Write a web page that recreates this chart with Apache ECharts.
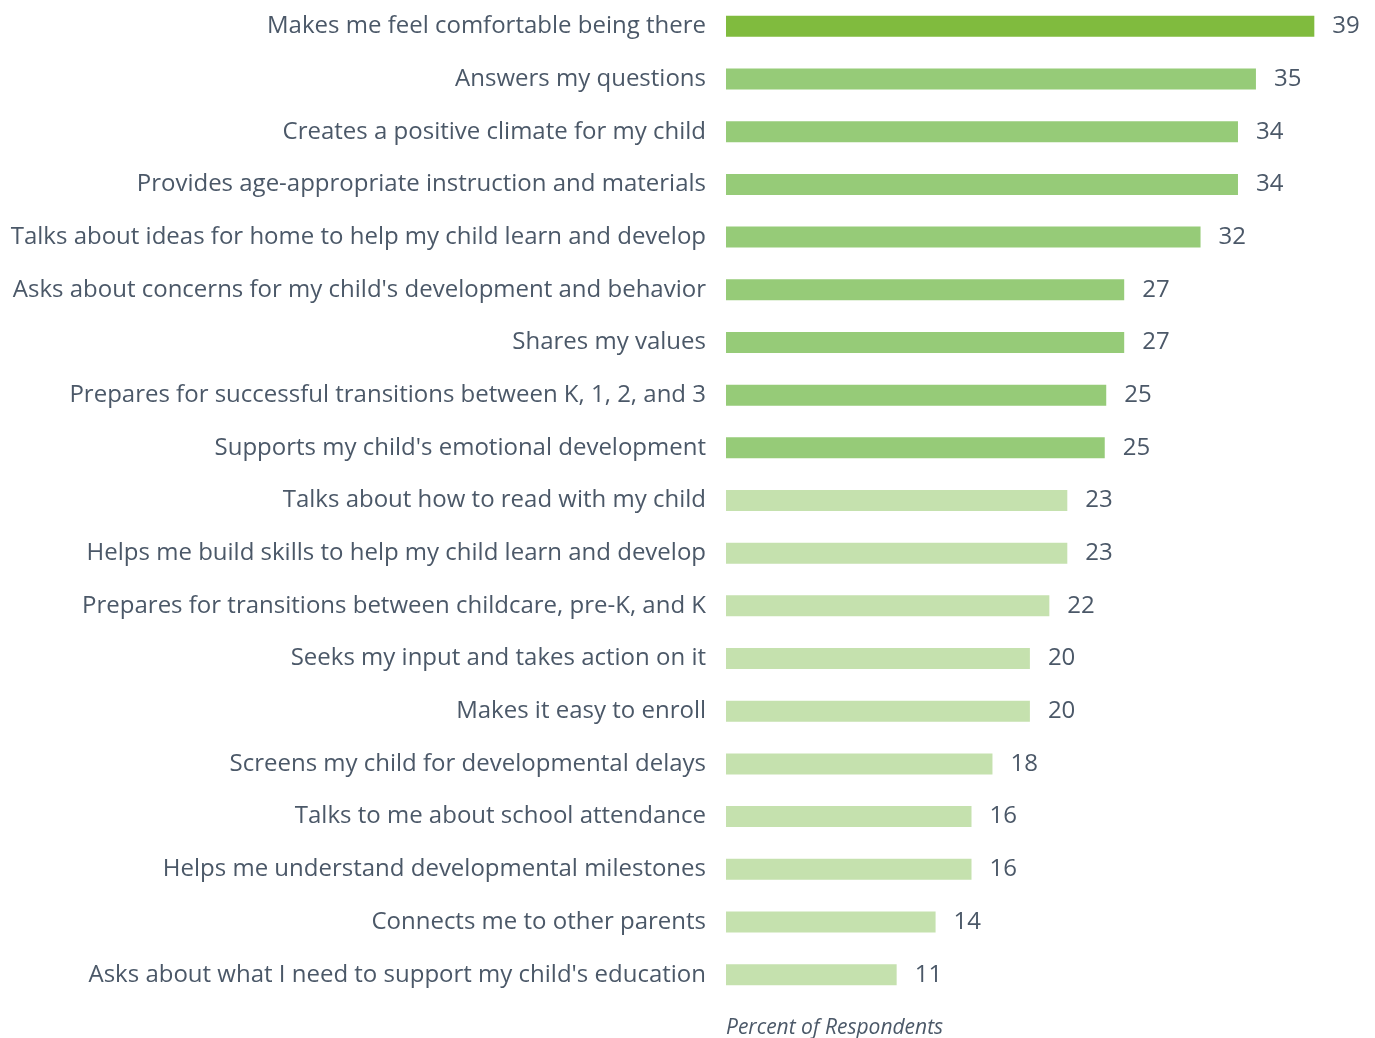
<!DOCTYPE html>
<html>
<head>
<meta charset="utf-8">
<script src="https://cdn.jsdelivr.net/npm/echarts@6/dist/echarts.min.js"></script>
<style>
  html, body { margin: 0; padding: 0; background: #fff; }
  #chart { width: 1375px; height: 1038px; }
</style>
</head>
<body>
<div id="chart"></div>
<script>
var categories = [
    "Makes me feel comfortable being there",
    "Answers my questions",
    "Creates a positive climate for my child",
    "Provides age-appropriate instruction and materials",
    "Talks about ideas for home to help my child learn and develop",
    "Asks about concerns for my child's development and behavior",
    "Shares my values",
    "Prepares for successful transitions between K, 1, 2, and 3",
    "Supports my child's emotional development",
    "Talks about how to read with my child",
    "Helps me build skills to help my child learn and develop",
    "Prepares for transitions between childcare, pre-K, and K",
    "Seeks my input and takes action on it",
    "Makes it easy to enroll",
    "Screens my child for developmental delays",
    "Talks to me about school attendance",
    "Helps me understand developmental milestones",
    "Connects me to other parents",
    "Asks about what I need to support my child's education"
];
// percent of respondents (labels show rounded value)
var values = [39.3, 35.4, 34.2, 34.2, 31.7, 26.6, 26.6, 25.4, 25.3, 22.8, 22.8, 21.6, 20.3, 20.3, 17.8, 16.4, 16.4, 14.0, 11.4];
// colour group of each bar: 0 = top, 1 = middle, 2 = lower
var groups = [0, 1, 1, 1, 1, 1, 1, 1, 1, 2, 2, 2, 2, 2, 2, 2, 2, 2, 2];
var groupColors = ["#80bb3e", "#96cb78", "#c5e1ae"];

var textColor = "#4b5868";
var font = "'Open Sans', 'Noto Sans', sans-serif";

var chart = echarts.init(document.getElementById('chart'));

var barData = [];
for (var i = 0; i < values.length; i++) {
    barData.push({
        value: values[i],
        itemStyle: { color: groupColors[groups[i]] }
    });
}

var option = {
    backgroundColor: '#fff',
    animation: false,
    title: {
        text: 'Percent of Respondents',
        left: 726,
        top: 1018,
        padding: 0,
        textStyle: {
            fontFamily: font,
            fontSize: 21,
            fontStyle: 'italic',
            fontWeight: 'normal',
            color: textColor
        }
    },
    grid: {
        left: 726,
        top: -4,
        width: 40 * 14.97,
        height: 1005,
        containLabel: false
    },
    xAxis: {
        type: 'value',
        min: 0,
        max: 40,
        show: false
    },
    yAxis: {
        type: 'category',
        inverse: true,
        data: categories,
        axisLine: { show: false },
        axisTick: { show: false },
        splitLine: { show: false },
        axisLabel: {
            margin: 20,
            fontFamily: font,
            fontSize: 24,
            color: textColor
        }
    },
    series: [
        {
            type: 'bar',
            data: barData,
            barWidth: 21,
            label: {
                show: true,
                position: 'right',
                distance: 18,
                fontFamily: font,
                fontSize: 24,
                color: textColor,
                formatter: function(p) {
                    return Math.round(p.value);
                }
            }
        }
    ]
};
chart.setOption(option);
</script>
</body>
</html>
